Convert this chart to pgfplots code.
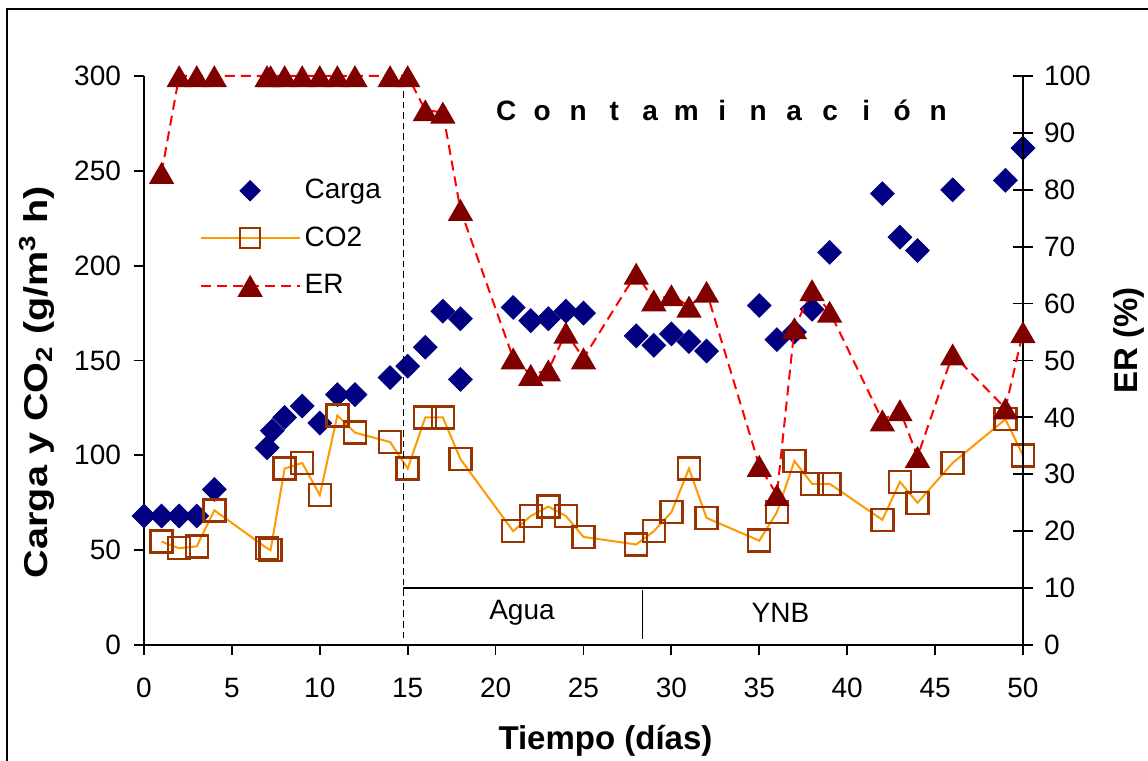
\documentclass[border=0pt]{standalone}
\usepackage{pgfplots}
\pgfplotsset{compat=1.18}
\usepackage{graphicx}
\usepackage{fontspec}
\setmainfont{Liberation Sans}
\definecolor{cargac}{HTML}{000080}
\definecolor{co2line}{HTML}{FF9900}
\definecolor{co2mark}{HTML}{993300}
\definecolor{ermark}{HTML}{800000}
\definecolor{erline}{HTML}{FF0000}
\newcommand{\lt}[1]{\makebox[18pt][c]{#1}}
\pgfplotsset{
  common/.style={scale only axis, width=439.5pt, height=284.5pt, xmin=0, xmax=50, clip=false,
    /pgf/number format/assume math mode=true,
    ticklabel style={font=\fontsize{14}{16}\selectfont},
    tick style={black, line width=0.9pt},
    axis line style={black, line width=1pt},
  },
}
\begin{document}
\begin{tikzpicture}
\begin{axis}[common,
  ymin=0, ymax=300,
  axis x line*=bottom, axis y line*=left,
  xtick={0,5,...,50}, ytick={0,50,...,300},
  tick align=outside, major tick length=5pt,
  xticklabel style={yshift=-8pt},
  yticklabel style={xshift=-3pt},
  xlabel={Tiempo (días)},
  ylabel={\scalebox{1.2}[1]{Carga y CO\textsubscript{2} (g/m\textsuperscript{3} h)}},
  xlabel style={font=\bfseries\fontsize{16.5}{18}\selectfont, at={(axis description cs:0.525,-0.169)}, anchor=center},
  ylabel style={font=\bfseries\fontsize{16.5}{18}\selectfont, at={(axis description cs:-0.122,0.462)}, anchor=center},
]
% Carga
\addplot[only marks, mark=square*, mark size=4.2pt, mark options={rotate=45, fill=cargac, draw=cargac}] table {
x y
0 68
1 68
2 68
3 68
4 82
7 104
7.3 113
8 120
9 126
10 117
11 132
12 132
14 141
15 147
16 157
17 176
18 172
18 140
21 178
22 171
23 172
24 176
25 175
28 163
29 158
30 164
31 160
32 155
35 179
36 161
37 165
38 177
39 207
42 238
43 215
44 208
46 240
49 245
50 262
};
% CO2
\addplot[co2line, line width=1pt, mark=square, mark size=5.5pt, mark options={draw=co2mark, line width=1.2pt}] table {
x y
1 54.5
2 51
3 52
4 71
7 51
7.2 50
8 93
9 96
10 79
11 121
12 112
14 107
15 93
16 120
17 120
18 98
21 60
22 68
23 73
24 68
25 57
28 53
29 60
30 70
31 93
32 67
35 55
36 70
37 97
38 85
39 85
42 66
43 86
44 75
46 96
49 119
50 100
};
\node[font=\bfseries\fontsize{14}{16}\selectfont] at (axis cs:32.89,282) {\lt{C}\lt{o}\lt{n}\lt{t}\lt{a}\lt{m}\lt{i}\lt{n}\lt{a}\lt{c}\lt{i}\lt{ó}\lt{n}};
\end{axis}
\begin{axis}[common,
  ymin=0, ymax=100,
  axis y line*=right, axis x line=none,
  ytick={0,10,...,100},
  tick align=center, major tick length=10pt,
  yticklabel style={xshift=2pt},
  ylabel={ER (\%)},
  ylabel style={font=\bfseries\fontsize{16.5}{18}\selectfont, at={(axis description cs:1.12,0.535)}, anchor=center},
  legend image code/.code={\draw[mark repeat=2,mark phase=2] plot coordinates {(0cm,0cm) (0.87cm,0cm) (1.74cm,0cm)};},
  legend style={draw=none, fill=none, font=\fontsize{14}{16}\selectfont, row sep=8.5pt,
    at={(axis description cs:0.056,0.833)}, anchor=north west},
  legend cell align=left,
]
\addlegendimage{mark=square*, mark size=3.6pt, mark options={rotate=45, fill=cargac, draw=cargac},
  legend image code/.code={\draw[only marks] plot coordinates {(0.87cm,0cm)};}}
\addlegendentry{Carga}
\addlegendimage{co2line, line width=1pt, mark=square, mark size=5pt, mark options={draw=co2mark, line width=1.2pt}}
\addlegendentry{CO2}
\addplot[erline, line width=1pt, dash pattern=on 5pt off 3pt, mark=triangle*, mark size=6.3pt, mark options={solid, fill=ermark, draw=ermark, yshift=-1.9pt}] table {
x y
1 83
2 100
3 100
4 100
7 100
7.2 100
8 100
9 100
10 100
11 100
12 100
14 100
15 100
16 94
17 93.6
18 76.5
21 50.4
22 47.5
23 48.3
24 54.9
25 50.4
28 65.3
29 60.6
30 61.5
31 59.5
32 62.1
35 31.5
36 26.4
37 55.7
38 62.4
39 58.6
42 39.5
43 41.3
44 33.1
46 51.1
49 41.6
50 55
};
\addlegendentry{ER}
\draw[black, line width=0.8pt, dash pattern=on 3.3pt off 2pt] (axis cs:14.75,1.2) -- (axis cs:14.75,98);
\draw[black, line width=1pt] (axis cs:14.75,10) -- (axis cs:50,10);
\draw[black, line width=0.8pt] (axis cs:28.35,9.6) -- (axis cs:28.35,1);
\node[font=\fontsize{14}{16}\selectfont] at (axis cs:21.5,5.6) {Agua};
\node[font=\fontsize{14}{16}\selectfont] at (axis cs:36.2,5.6) {YNB};
\end{axis}
\draw[line width=1.3pt] (-68.5pt,-80pt) -- (-68.5pt,317.9pt) -- (530pt,317.9pt);
\pgfresetboundingbox
\path[use as bounding box] (-72pt,-58pt) rectangle (502pt,322.5pt);
\end{tikzpicture}
\end{document}
